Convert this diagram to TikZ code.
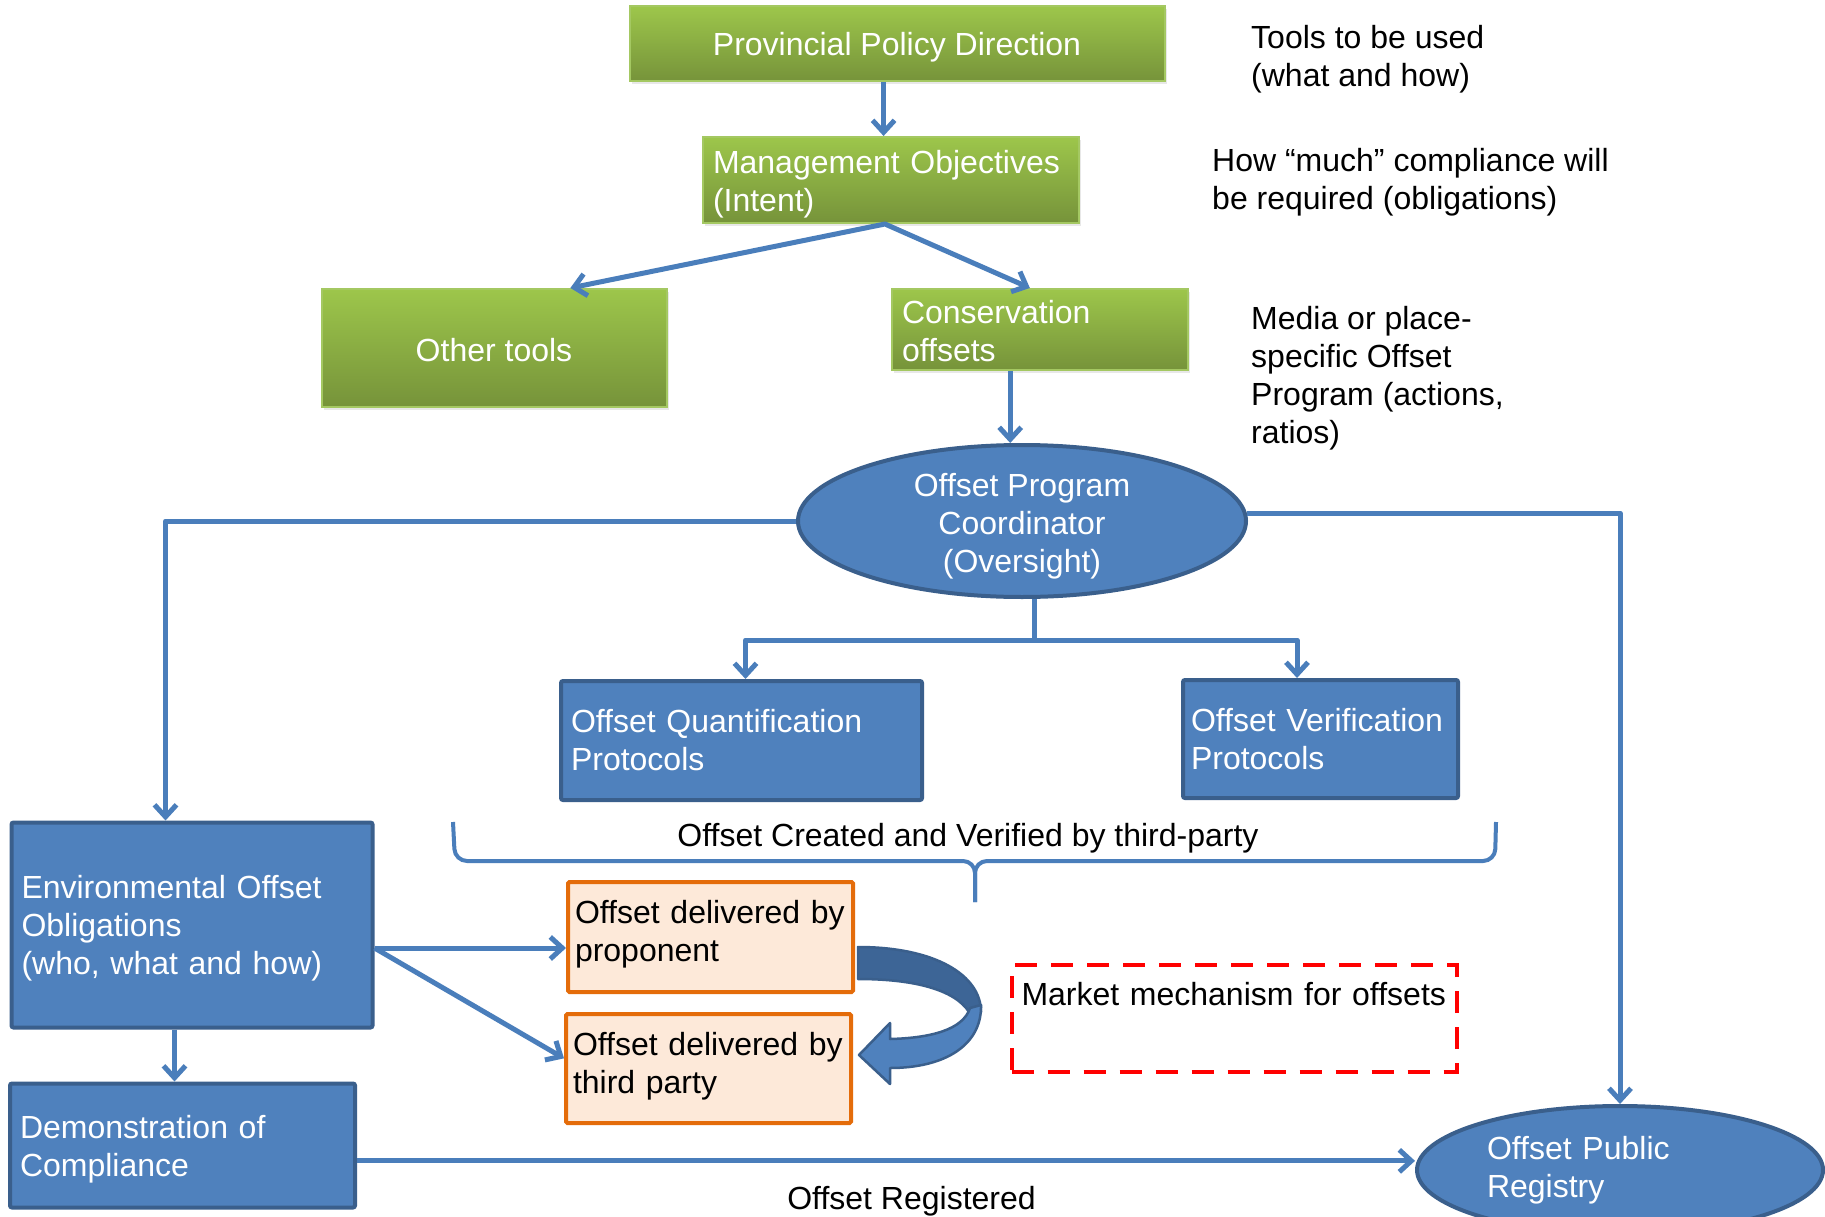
\documentclass[tikz,border=0pt]{standalone}
\usepackage{fontspec}
\setmainfont{Liberation Sans}
\usetikzlibrary{arrows.meta,shapes.geometric,calc,shadows}
\definecolor{conn}{HTML}{4A7EBB}
\definecolor{bfill}{HTML}{4F81BD}
\definecolor{bdraw}{HTML}{3A5F8C}
\definecolor{bdark}{HTML}{3D6596}
\definecolor{gtop}{HTML}{9DC64B}
\definecolor{gbot}{HTML}{76933A}
\definecolor{gdraw}{HTML}{A4C862}
\definecolor{ofill}{HTML}{FDE9D9}
\definecolor{odraw}{HTML}{E46C0A}
\begin{document}
\begin{tikzpicture}[x=1pt,y=-1pt,
  txt/.style={font=\fontsize{32}{38}\selectfont},
  lowertext/.style={execute at begin node={\rule{0pt}{#1}}},
  raisetext/.style={execute at end node={\rule[-#1]{0pt}{0pt}}},
  gbox/.style={txt, rectangle, text=white, top color=gtop, bottom color=gbot,
    draw=gdraw, line width=2pt, inner xsep=10pt, inner ysep=0pt,
    drop shadow={opacity=0.18, shadow xshift=2pt, shadow yshift=-3pt}},
  bbox/.style={txt, rectangle, rounded corners=2pt, fill=bfill, draw=bdraw,
    line width=4pt, text=white, align=left, inner xsep=10pt, inner ysep=0pt},
  obox/.style={txt, rectangle, rounded corners=1.5pt, fill=ofill, draw=odraw,
    line width=4pt, align=left, inner xsep=7pt, inner ysep=0pt},
  mbox/.style={txt, rectangle, draw=red, line width=4pt, dash pattern=on 22pt off 14pt,
    align=left, inner xsep=10pt},
  ell/.style={txt, ellipse, fill=bfill, draw=bdraw, line width=4pt, text=white,
    inner sep=0pt},
  lbl/.style={txt, align=left, inner sep=0pt},
  ln/.style={draw=conn, line width=5pt},
  arr/.style={ln, line join=round, -{Straight Barb[length=12pt,width=22pt]}},
  arr2/.style={ln, line join=round, {Straight Barb[length=12pt,width=22pt]}-{Straight Barb[length=12pt,width=22pt]}}
]
\useasboundingbox (0,0) rectangle (1825,1217);
\clip (0,0) rectangle (1825,1217);
\fill[white] (0,0) rectangle (1825,1217);

% green boxes
\node[gbox, lowertext=30.5pt, minimum width=535pt, minimum height=75pt, align=center] (ppd) at (897,44) {Provincial Policy Direction};
\node[gbox, lowertext=32pt, minimum width=376pt, minimum height=86pt, text width=356pt, align=left] (mo) at (891,180) {Management Objectives\\(Intent)};
\node[gbox, lowertext=28pt, minimum width=345pt, minimum height=118pt, align=center] (ot) at (494,348) {Other tools};
\node[gbox, lowertext=25.5pt, minimum width=296pt, minimum height=81pt, text width=276pt, align=left] (co) at (1040,329.5) {Conservation\\offsets};

% ellipses
\node[ell, inner ysep=-12pt, minimum width=448pt, minimum height=152pt] (opc) at (1022,521)
  {\raisebox{0pt}[\dimexpr\height+11pt\relax][\depth]{\begin{tabular}{@{}c@{}}Offset Program\\Coordinator\\(Oversight)\end{tabular}}};
\node[ell, align=left, text width=266pt, minimum width=406pt, minimum height=128pt] (reg) at (1620,1170) {Offset Public\\Registry};

% blue boxes
\node[bbox, minimum width=361pt, minimum height=119pt, text width=341pt] (qp) at (741.5,740.5) {Offset Quantification\\Protocols};
\node[bbox, minimum width=275pt, minimum height=118pt, text width=259pt, inner xsep=8pt] (vp) at (1320.5,739) {Offset Verification\\Protocols};
\node[bbox, lowertext=30.5pt, minimum width=361pt, minimum height=205pt, text width=341pt] (env) at (192,925) {Environmental Offset\\Obligations\\(who, what and how)};
\node[bbox, lowertext=30.5pt, minimum width=345pt, minimum height=124pt, text width=325pt] (demo) at (182.5,1145.5) {Demonstration of\\Compliance};

% orange boxes
\node[obox, raisetext=12pt, minimum width=285pt, minimum height=110pt, text width=271pt] (prop) at (710.5,937) {Offset delivered by\\proponent};
\node[obox, raisetext=12pt, minimum width=285pt, minimum height=109pt, text width=271pt] (third) at (708.5,1068.5) {Offset delivered by\\third party};

% market mechanism
\node[mbox, minimum width=445pt, text width=425pt, text height=31pt, text depth=58pt, inner ysep=9pt] (mkt) at (1234,1018.5) {Market mechanism for offsets};

% side labels
\node[lbl, anchor=west] (l1) at (1251,59) {Tools to be used\\(what and how)};
\node[lbl, anchor=west] (l2) at (1212,182) {How “much” compliance will\\be required (obligations)};
\node[lbl, anchor=west] (l3) at (1251,378.5) {Media or place-\\specific Offset\\Program (actions,\\ratios)};
\node[lbl] (l4) at (968,838) {Offset Created and Verified by third-party};
\node[lbl] (l5) at (911.5,1201) {Offset Registered};

% connectors
\coordinate (a1) at ($(ppd.south west)!0.475!(ppd.south east)$);
\draw[arr] (a1) -- (a1 |- mo.north);

\coordinate (mob) at ($(mo.south west)!0.484!(mo.south east)$);
\coordinate (otn) at ($(ot.north west)!0.72!(ot.north east)$);
\coordinate (con) at ($(co.north west)!0.466!(co.north east)$);
\draw[arr2] (otn) -- (mob) -- (con);

\coordinate (cos) at ($(co.south west)!0.40!(co.south east)$);
\draw[arr] (cos) -- (cos |- opc.north);

\coordinate (opcs) at ($(opc.south)+(12,0)$);
\coordinate (jn) at ($(opcs)+(0,41)$);
\coordinate (qpn) at ($(qp.north)+(4,0)$);
\coordinate (vpn) at ($(vp.north)+(-23.5,0)$);
\draw[ln] (opcs) -- (jn);
\draw[arr2] (qpn) |- (jn) -| (vpn);

\coordinate (envn) at ($(env.north west)+(156,0)$);
\draw[arr] (opc.west) -| (envn);
\draw[arr] (opc.2) -| (reg.north);

\coordinate (envr) at ($(env.north east)!0.61!(env.south east)$);
\draw[arr] (envr) -- (envr -| prop.west);
\coordinate (thw) at ($(third.north west)!0.41!(third.south west)$);
\draw[arr] (envr) -- (thw);

\coordinate (envs) at ($(env.south west)+(165,0)$);
\draw[arr] (envs) -- (envs |- demo.north);

\coordinate (demr) at ($(demo.north east)!0.62!(demo.south east)$);
\draw[arr] (demr) -- (demr -| reg.west);

% brace
\draw[ln, line width=4pt, rounded corners=12pt] (453,822) -- (455,861) -- (975,861) -- (975,902);
\draw[ln, line width=4pt, rounded corners=12pt] (975,902) -- (975,861) -- (1495,861) -- (1496,822);

% curved block arrow
\filldraw[fill=bdark, draw=bdraw, line width=2.5pt, line join=round]
  (858,947) .. controls (935,947) and (981,975) .. (981,1012) -- (969,1012)
  .. controls (955,990) and (915,979) .. (858,979) -- cycle;
\filldraw[fill=bfill, draw=bdraw, line width=2.5pt, line join=round]
  (981,1005) .. controls (982,1045) and (945,1068) .. (890,1068) -- (890,1084)
  -- (859,1055) -- (890,1023) -- (890,1039)
  .. controls (930,1038) and (963,1030) .. (970,1008) -- cycle;
\end{tikzpicture}
\end{document}
